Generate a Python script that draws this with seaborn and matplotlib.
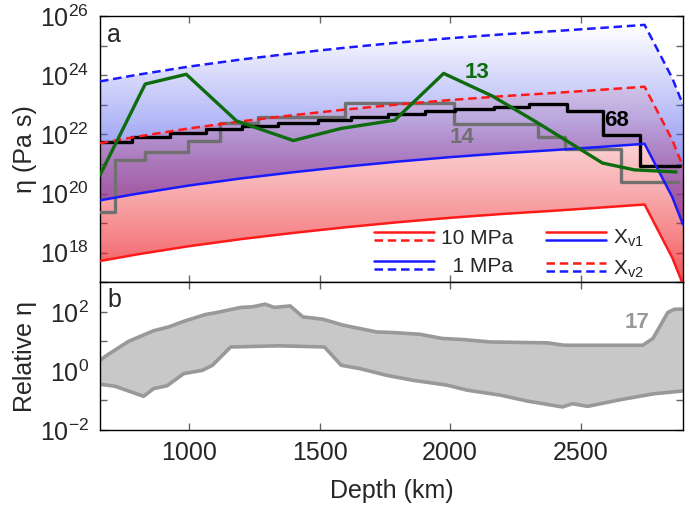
import numpy as np
import matplotlib
matplotlib.use("Agg")
import matplotlib.pyplot as plt
import seaborn as sns
from matplotlib.colors import LinearSegmentedColormap
from matplotlib.patches import PathPatch
from matplotlib.path import Path
from matplotlib.lines import Line2D
from matplotlib.legend_handler import HandlerBase
from matplotlib.ticker import FixedLocator, FuncFormatter, NullFormatter

sns.set_style("ticks")
plt.rcParams["font.family"] = ["Liberation Sans", "DejaVu Sans"]
plt.rcParams["mathtext.default"] = "regular"

# %% model viscosity curves (log10 Pa s)
depth_model = [660, 800, 1000, 1200, 1400, 1600, 1800, 2000, 2200, 2400, 2600, 2744, 2800, 2850, 2891]
log_1mpa_xv2 = [23.79, 24.01, 24.29, 24.53, 24.74, 24.93, 25.10, 25.25, 25.38, 25.49, 25.61, 25.70, 24.75, 23.90, 23.00]
log_10mpa_xv2 = [21.70, 21.92, 22.20, 22.44, 22.65, 22.84, 23.01, 23.16, 23.29, 23.40, 23.52, 23.61, 22.66, 21.81, 20.91]
log_1mpa_xv1 = [19.77, 19.99, 20.27, 20.51, 20.72, 20.91, 21.08, 21.23, 21.36, 21.47, 21.59, 21.68, 20.73, 19.88, 18.95]
log_10mpa_xv1 = [17.72, 17.94, 18.22, 18.46, 18.67, 18.86, 19.03, 19.18, 19.31, 19.42, 19.54, 19.63, 18.68, 17.83, 16.93]

# profile 13 (green)
depth_13 = [660, 833, 990, 1183, 1400, 1583, 1788, 1975, 2160, 2333, 2583, 2705, 2865]
log_13 = [20.62, 23.70, 24.03, 22.45, 21.79, 22.20, 22.48, 24.06, 23.30, 22.40, 21.03, 20.80, 20.73]

# profile 68 (black steps)
edges_68 = [660, 782, 926, 1064, 1205, 1340, 1494, 1622, 1763, 1904, 2019, 2167, 2302, 2449, 2583, 2725, 2878]
log_68 = [21.75, 21.90, 22.03, 22.17, 22.29, 22.40, 22.50, 22.59, 22.70, 22.79, 22.85, 22.93, 23.01, 22.79, 21.98, 20.93]

# profile 14 (gray steps)
edges_14 = [660, 718, 831, 998, 1118, 1263, 1596, 2015, 2336, 2438, 2654, 2872]
log_14 = [19.38, 21.13, 21.41, 21.77, 22.39, 22.57, 23.06, 22.36, 21.92, 21.49, 20.40]

# panel b: relative viscosity range (profile 17)
rel_upper_depth = [660, 690, 769, 865, 923, 981, 1064, 1103, 1199, 1244, 1291, 1327, 1388, 1436, 1513,
                   1590, 1718, 1780, 1885, 1968, 2052, 2154, 2372, 2436, 2737, 2776, 2833, 2859, 2891]
rel_upper_log = [0.36, 0.55, 1.00, 1.36, 1.49, 1.68, 1.91, 1.97, 2.15, 2.17, 2.26, 2.15, 2.20, 1.83, 1.75,
                 1.55, 1.32, 1.30, 1.24, 1.10, 1.06, 0.98, 0.95, 0.87, 0.87, 1.10, 1.98, 2.09, 2.09]
rel_lower_depth = [660, 718, 827, 865, 917, 981, 1052, 1090, 1160, 1346, 1519, 1583, 1654, 1757, 1859,
                   1987, 2064, 2192, 2295, 2430, 2468, 2526, 2654, 2782, 2891]
rel_lower_log = [-0.45, -0.52, -0.86, -0.60, -0.50, -0.09, 0.02, 0.19, 0.81, 0.85, 0.81, 0.19, 0.08, -0.15, -0.32,
                 -0.48, -0.65, -0.82, -1.02, -1.22, -1.11, -1.20, -0.97, -0.77, -0.68]

RED = "#ff1a1a"
BLUE = "#1a1aff"
GREEN = "#0e6b0e"
GRAY = "#707070"
DASH = (3.4, 1.9)
FS = 18


def pw(vals):
    return 10.0 ** np.asarray(vals)


class HandlerPair(HandlerBase):
    """Two legend lines stacked on top of each other."""
    def create_artists(self, legend, orig_handle, xdescent, ydescent,
                       width, height, fontsize, trans):
        arts = []
        for h, frac in zip(orig_handle, (0.78, 0.22)):
            y = frac * height - ydescent
            ln = Line2D([-xdescent, width - xdescent], [y, y])
            ln.update_from(h)
            ln.set_transform(trans)
            arts.append(ln)
        return arts


def gradient_band(ax, x, lower, upper, rgb, anchors, z):
    verts = list(zip(x, pw(upper))) + list(zip(x[::-1], pw(lower)[::-1]))
    patch = PathPatch(Path(verts + [verts[0]], closed=True), transform=ax.transData,
                      facecolor="none", edgecolor="none")
    ax.add_patch(patch)
    cmap = LinearSegmentedColormap.from_list(
        "g", [((L - 16.0) / 10.0, (*rgb, a)) for L, a in anchors])
    yedges = np.logspace(16, 26, 301)
    centers = np.log10(np.sqrt(yedges[:-1] * yedges[1:]))
    mesh = ax.pcolormesh([650, 2900], yedges, centers[:, None], cmap=cmap,
                         vmin=16, vmax=26, shading="flat", zorder=z, rasterized=True)
    mesh.set_clip_path(patch)


fig = plt.figure(figsize=(6.85, 5.09), dpi=100)
ax_a = fig.add_axes([100 / 685, 1 - 282.3 / 509, 583 / 685, 266.3 / 509])
ax_b = fig.add_axes([100 / 685, 1 - 430 / 509, 583 / 685, 147.7 / 509])

# %% panel a
ax = ax_a
ax.set_yscale("log")
ax.set_xlim(660, 2891)
ax.set_ylim(1e17, 1e26)

gradient_band(ax, depth_model, log_1mpa_xv1, log_1mpa_xv2, (0.28, 0.32, 0.92),
              [(16, 0.85), (19, 0.85), (25.7, 0.0), (26, 0.0)], 1)
gradient_band(ax, depth_model, log_10mpa_xv1, log_10mpa_xv2, (0.93, 0.12, 0.15),
              [(16, 0.80), (17.5, 0.70), (18.5, 0.55), (19.7, 0.41), (22.5, 0.12), (26, 0.0)], 1.1)

sns.lineplot(x=edges_14, y=pw(log_14 + [log_14[-1]]), color=GRAY, lw=2.4,
             drawstyle="steps-post", estimator=None, legend=False, ax=ax, zorder=3)
sns.lineplot(x=edges_68, y=pw(log_68 + [log_68[-1]]), color="black", lw=2.4,
             drawstyle="steps-post", estimator=None, legend=False, ax=ax, zorder=4)

for vals, col, ls in [(log_10mpa_xv1, RED, None), (log_1mpa_xv1, BLUE, None),
                      (log_10mpa_xv2, RED, DASH), (log_1mpa_xv2, BLUE, DASH)]:
    kw = {"dashes": ls} if ls else {}
    sns.lineplot(x=depth_model, y=pw(vals), color=col, lw=1.8, estimator=None,
                 legend=False, ax=ax, zorder=5, **kw)

sns.lineplot(x=depth_13, y=pw(log_13), color=GREEN, lw=2.4, estimator=None,
             legend=False, ax=ax, zorder=6)

ax.text(2103, 10 ** 24.1, "13", color=GREEN, fontsize=16, fontweight="bold", ha="center", va="center")
ax.text(2045, 10 ** 21.9, "14", color=GRAY, fontsize=16, fontweight="bold", ha="center", va="center")
ax.text(2638, 10 ** 22.48, "68", color="black", fontsize=16, fontweight="bold", ha="center", va="center")
ax.text(0.012, 0.975, "a", transform=ax.transAxes, fontsize=FS, ha="left", va="top")

rs = Line2D([], [], color=RED, lw=1.8)
rd = Line2D([], [], color=RED, lw=1.8, dashes=DASH)
bs = Line2D([], [], color=BLUE, lw=1.8)
bd = Line2D([], [], color=BLUE, lw=1.8, dashes=DASH)
ax.legend(handles=[(rs, rd), (bs, bd), (rs, bs), (rd, bd)],
          labels=["10 MPa", "  1 MPa", "X$_{v1}$", "X$_{v2}$"],
          handler_map={tuple: HandlerPair()}, ncol=2, frameon=False,
          loc="lower right", bbox_to_anchor=(0.965, -0.06), fontsize=15,
          handlelength=2.85, handletextpad=0.35, columnspacing=1.6, labelspacing=0.45)

ax.set_ylabel("η (Pa s)", fontsize=FS, labelpad=2)
ax.yaxis.set_major_locator(FixedLocator([1e18, 1e20, 1e22, 1e24, 1e26]))
ax.yaxis.set_minor_locator(FixedLocator([1e17, 1e19, 1e21, 1e23, 1e25]))
ax.yaxis.set_major_formatter(FuncFormatter(lambda v, p: r"$10^{%d}$" % round(np.log10(v))))
ax.yaxis.set_minor_formatter(NullFormatter())
ax.tick_params(axis="x", labelbottom=False)

# %% panel b
ax = ax_b
ax.set_yscale("log")
ax.set_xlim(660, 2891)
ax.set_ylim(1e-2, 1e3)
ax.fill(rel_upper_depth + rel_lower_depth[::-1],
        list(pw(rel_upper_log)) + list(pw(rel_lower_log)[::-1]),
        color="#c8c8c8", lw=0, zorder=1)
sns.lineplot(x=rel_upper_depth, y=pw(rel_upper_log), color="#999999", lw=2.6,
             estimator=None, legend=False, ax=ax, zorder=2)
sns.lineplot(x=rel_lower_depth, y=pw(rel_lower_log), color="#999999", lw=2.6,
             estimator=None, legend=False, ax=ax, zorder=2)
ax.text(2715, 42, "17", color="#999999", fontsize=16, fontweight="bold", ha="center", va="center")
ax.text(0.012, 0.96, "b", transform=ax.transAxes, fontsize=FS, ha="left", va="top")

ax.set_xlabel("Depth (km)", fontsize=FS, labelpad=10)
ax.set_ylabel("Relative η", fontsize=FS, labelpad=2)
ax.yaxis.set_major_locator(FixedLocator([1e-2, 1e0, 1e2]))
ax.yaxis.set_minor_locator(FixedLocator([1e-1, 1e1, 1e3]))
ax.yaxis.set_major_formatter(FuncFormatter(lambda v, p: r"$10^{%d}$" % round(np.log10(v))))
ax.yaxis.set_minor_formatter(NullFormatter())

for ax in (ax_a, ax_b):
    ax.xaxis.set_major_locator(FixedLocator([1000, 1500, 2000, 2500]))
    ax.tick_params(which="both", direction="in", top=True, right=True, color="#666666",
                   labelsize=FS, pad=8)
    ax.tick_params(which="major", length=5, width=1)
    ax.tick_params(which="minor", length=5, width=1)
    for s in ax.spines.values():
        s.set_linewidth(1.0)
        s.set_color("black")
    ax.grid(False)

fig.savefig("out.png", dpi=100)
